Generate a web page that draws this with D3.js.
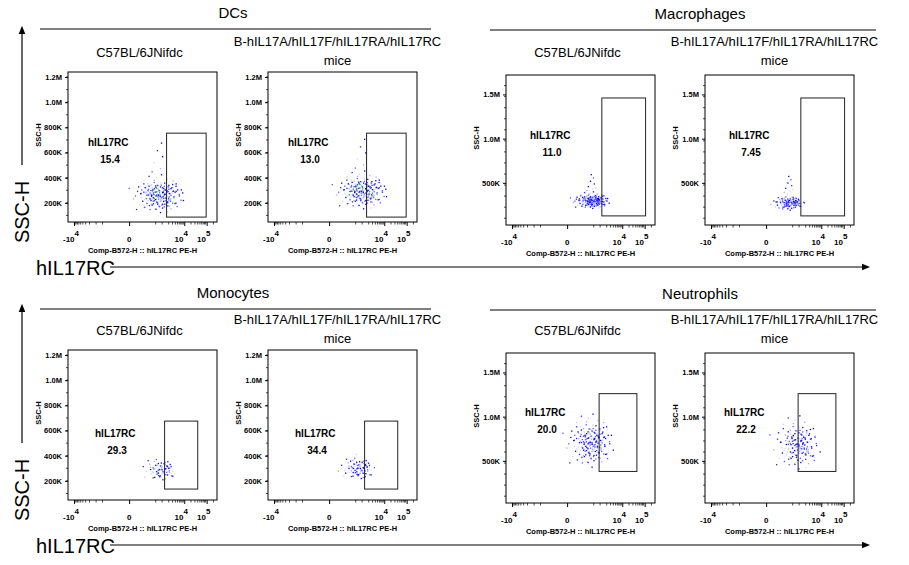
<!DOCTYPE html>
<html lang="en">
<head>
<meta charset="UTF-8">
<title>hIL17RC flow</title>
<script src="https://d3js.org/d3.v7.min.js"></script>
<style>
  body { margin: 0; background: #fff; }
  text { font-family: "Liberation Sans", Arial, sans-serif; }
</style>
</head>
<body>
<svg id="chart" width="909" height="565"></svg>
<script>
// ---- data ----
let groups = ["DCs", "Macrophages", "Monocytes", "Neutrophils"];
let strains = ["C57BL/6JNifdc", "B-hIL17A/hIL17F/hIL17RA/hIL17RC"];
let percents = [[15.4, 13.0], [11.0, 7.45], [29.3, 34.4], [20.0, 22.2]];
// gate [xFrom, xTo] in fluorescence, [sscLow, sscHigh]
let gateX = [[1600, 95000], [1200, 110000], [1300, 40000], [900, 45000]];
let gateY = [[87e3, 754e3], [126e3, 1.46e6], [135e3, 675e3], [380e3, 1.26e6]];
// cluster centre (fluorescence, SSC), spread (x in display fraction, SSC), point count
let clusterX = [[500, 700], [300, 250], [600, 500], [250, 600]];
let clusterY = [[260e3, 290e3], [300e3, 280e3], [290e3, 300e3], [700e3, 680e3]];
let spreadX = [0.14, 0.1, 0.11, 0.13];
let spreadY = [120e3, 75e3, 95e3, 240e3];
let counts = [[86, 86], [75, 45], [28, 34], [80, 66]];
let yTicks = [[2e5, 4e5, 6e5, 8e5, 1e6, 1.2e6], [5e5, 1e6, 1.5e6]];
let yTickLabels = [["200K", "400K", "600K", "800K", "1.0M", "1.2M"], ["500K", "1.0M", "1.5M"]];
let yDomains = [[48e3, 1.24e6], [23e3, 1.72e6]];
// hand-placed offsets for dot clouds
let offsets = [
  [0.1, 0.05], [-0.3, 0.2], [0.5, -0.4], [-0.7, -0.1], [0.2, 0.6], [0.8, 0.3], [-0.2, -0.6], [0.4, 0.1],
  [-0.5, 0.5], [0.0, -0.2], [0.6, 0.7], [-0.9, 0.3], [0.3, -0.8], [-0.1, 0.9], [0.7, -0.2], [-0.4, -0.3],
  [0.15, 0.35], [-0.6, 0.8], [0.9, -0.5], [-0.25, 0.1], [0.45, 0.45], [-0.8, -0.6], [0.05, -0.45], [0.35, -0.15],
  [-0.45, 0.05], [0.65, 0.15], [-0.15, 0.4], [0.25, -0.35], [-0.65, -0.35], [0.55, -0.65], [-0.35, 0.65], [1.1, 0.1],
  [-1.1, -0.2], [0.0, 1.2], [0.2, -1.1], [-0.05, 0.25], [0.75, 0.55], [-0.55, -0.75], [0.1, -0.05], [-0.2, 0.55],
  [0.4, 0.85], [-0.75, 0.15], [0.85, -0.05], [-0.3, -0.9], [0.6, -0.3], [-0.1, -0.1], [0.3, 0.2], [-0.4, 0.35],
  [1.3, -0.3], [-1.3, 0.5], [0.5, 1.1], [-0.6, 1.0], [0.95, 0.8], [-0.95, -0.9], [0.15, -0.7], [-0.15, -0.35],
  [0.7, -0.85], [-0.5, -0.15], [0.35, 0.5], [0.05, 0.7], [-0.85, 0.6], [1.0, -0.7], [-0.25, -0.55], [0.45, -0.5],
  [0.25, 1.4], [-0.35, 1.3], [0.55, 0.3], [-0.7, 0.4], [0.8, 1.0], [-0.05, -0.85], [0.6, 0.45], [-0.45, -0.5],
  [1.2, 0.4], [-1.0, 0.0], [0.1, 0.45], [-0.2, -0.25], [0.9, 0.25], [-0.6, 0.25], [0.3, -0.55], [0.0, 0.0],
  [0.2, 1.8], [-0.1, 2.2], [0.3, 2.6], [0.05, 3.0], [0.25, 3.5], [-0.2, 1.6], [0.4, 2.0], [0.1, 4.0]
];
let dotColors = ["#0000ff", "#5a5aff", "#a8a8ff", "#d0d0ff", "#0000ff", "#2a2adf"];
let coreColors = ["#10c020", "#ffd000"];

let xTickVals = [-1e4, 0, 1e4, 1e5];
let xMinor = [-9e3, -8e3, -7e3, -6e3, -5e3, -4e3, -3e3, -2e3, -1e3, -500, 500, 1e3, 2e3, 3e3, 4e3, 5e3, 6e3,
  7e3, 8e3, 9e3, 2e4, 3e4, 4e4, 5e4, 6e4, 7e4, 8e4, 9e4, 2e5];

// ---- layout ----
let svg = d3.select("#chart");
let rowOffset = [0, 278];
let colLeft = [68, 268, 506, 705];
let frameTop = [72, 75];
let fw = 149, fh = 150;

let x = d3.scaleSymlog().constant(35).domain([-18500, 289000]).range([0, fw]);

function supLabel(g, base, exp, xx, yy) {
  let t = g.append("text").attr("x", xx).attr("y", yy).attr("text-anchor", "middle")
    .attr("font-size", 8).attr("font-weight", "bold");
  t.append("tspan").text(base);
  if (exp) t.append("tspan").attr("dy", -6).text(exp);
}

groups.forEach((grp, gi) => {
  let row = gi >= 2 ? 1 : 0;
  let side = gi % 2; // 0 = left block, 1 = right block
  let oy = rowOffset[row];
  let top = frameTop[side] + oy;
  let y = d3.scaleLinear().domain(yDomains[side]).range([fh, 0]);

  // group title and rule
  let tx = side === 0 ? 233 : 700;
  svg.append("text").attr("x", tx).attr("y", oy + (side ? 19 : 18) + (row ? 2 : 0))
    .attr("text-anchor", "middle").attr("font-size", 15).text(grp);
  svg.append("line").attr("x1", side ? 490 : 40).attr("x2", side ? 876 : 431)
    .attr("y1", oy + (side ? 30 : 29) + (row ? 2 : 0)).attr("y2", oy + (side ? 30 : 29) + (row ? 2 : 0))
    .attr("stroke", "#000").attr("stroke-width", 1);

  strains.forEach((st, si) => {
    let left = colLeft[side * 2 + si];
    let cx = left + fw / 2;
    let head = svg.append("text").attr("text-anchor", "middle").attr("font-size", 13);
    if (si === 0) {
      head.attr("x", cx - 3).attr("y", oy + 57).text(st);
    } else {
      head.attr("x", cx - 5).attr("y", oy + 46).text(st);
      svg.append("text").attr("text-anchor", "middle").attr("font-size", 13)
        .attr("x", cx - 5).attr("y", oy + 65).text("mice");
    }

    let g = svg.append("g").attr("transform", `translate(${left},${top})`);

    // dots
    let c0 = x(clusterX[gi][si]), c1 = y(clusterY[gi][si]);
    let sx = spreadX[gi] * fw;
    let sy = y(0) - y(spreadY[gi]);
    let n = counts[gi][si];
    let pts = offsets.slice(0, n);
    if (gi === 1) pts = pts.concat(offsets.slice(80));
    let layers = [
      { pts: pts, fx: 1, fy: 1, swap: false, dx: 0 },
      { pts: offsets.slice(0, Math.round(n * 0.8)), fx: 0.8, fy: 0.8, swap: true, dx: 3 },
      { pts: offsets.slice(0, Math.round(n * 0.6)), fx: -0.55, fy: 0.6, swap: false, dx: 5 }
    ];
    layers.forEach((L, li) => {
      g.selectAll(".d" + li).data(L.pts).join("rect")
        .attr("x", d => c0 + L.dx + (L.swap ? d[1] : d[0]) * sx * L.fx)
        .attr("y", d => c1 - (L.swap ? d[0] : d[1]) * sy * L.fy)
        .attr("width", 1.3).attr("height", 1.3)
        .attr("fill", (d, i) => (gi === 0 && li === 2 && i % 4 === 0) ? coreColors[i % 2]
          : dotColors[(i + li * 2) % dotColors.length]);
    });

    // frame
    g.append("rect").attr("width", fw).attr("height", fh)
      .attr("fill", "none").attr("stroke", "#000").attr("stroke-width", 1);

    // gate
    let gx0 = x(gateX[gi][0]), gx1 = x(gateX[gi][1]);
    let gy0 = y(gateY[gi][1]), gy1 = y(gateY[gi][0]);
    g.append("rect").attr("x", gx0).attr("y", gy0).attr("width", gx1 - gx0).attr("height", gy1 - gy0)
      .attr("fill", "none").attr("stroke", "#222").attr("stroke-width", 1);

    // y axis
    let yAxis = d3.axisLeft(y).tickValues(yTicks[side]).tickSize(3)
      .tickFormat((d, i) => yTickLabels[side][i]);
    let ya = g.append("g").call(yAxis);
    ya.select(".domain").remove();
    ya.selectAll("text").attr("font-size", 7.5).attr("font-weight", "bold")
      .attr("font-family", "Liberation Sans, Arial, sans-serif");
    let yMinor = d3.range(100e3, yDomains[side][1], side ? 125e3 : 100e3);
    g.selectAll(".ym").data(yMinor).join("line")
      .attr("x1", -2).attr("x2", 0).attr("y1", d => y(d)).attr("y2", d => y(d))
      .attr("stroke", "#000").attr("stroke-width", 0.7);

    // x axis
    let xa = g.append("g").attr("transform", `translate(0,${fh})`)
      .call(d3.axisBottom(x).tickValues(xTickVals).tickSize(4).tickFormat(""));
    xa.select(".domain").remove();
    g.selectAll(".xm").data(xMinor).join("line")
      .attr("x1", d => x(d)).attr("x2", d => x(d)).attr("y1", fh).attr("y2", fh + 2.5)
      .attr("stroke", "#000").attr("stroke-width", 0.7);
    supLabel(g, "-10", "4", x(-1e4) - 3, fh + 20);
    supLabel(g, "0", "", x(0), fh + 20);
    supLabel(g, "10", "4", x(1e4) - 3, fh + 20);
    supLabel(g, "10", "5", x(1e5) - 3, fh + 20);
    g.append("text").attr("x", fw / 2).attr("y", fh + 31).attr("text-anchor", "middle")
      .attr("font-size", 7.5).attr("font-weight", "bold").text("Comp-B572-H :: hIL17RC PE-H");
    g.append("text").attr("transform", `translate(${-27},${fh / 2 - 12}) rotate(-90)`)
      .attr("text-anchor", "middle").attr("font-size", 7.5).attr("font-weight", "bold").text("SSC-H");

    // gate label
    let lx = [20, 24, 27, 19][gi], ly = [74, 64, 87, 63][gi];
    g.append("text").attr("x", lx).attr("y", ly).attr("font-size", 10).attr("font-weight", "bold").text("hIL17RC");
    g.append("text").attr("x", lx + 22).attr("y", ly + 17).attr("text-anchor", "middle")
      .attr("font-size", 10).attr("font-weight", "bold").text(percents[gi][si].toFixed(gi === 1 && si === 1 ? 2 : 1));
  });
});

// big axes
svg.append("defs").append("marker").attr("id", "ah").attr("viewBox", "0 0 10 10")
  .attr("refX", 5).attr("refY", 5).attr("markerWidth", 7).attr("markerHeight", 7).attr("orient", "auto")
  .append("path").attr("d", "M0,1 L10,5 L0,9 Z").attr("fill", "#000");

rowOffset.forEach(oy => {
  svg.append("line").attr("x1", 22).attr("x2", 22).attr("y1", oy + 165).attr("y2", oy + 30)
    .attr("stroke", "#000").attr("stroke-width", 1.2).attr("marker-end", "url(#ah)");
  svg.append("line").attr("x1", 110).attr("x2", 866).attr("y1", oy + 267).attr("y2", oy + 267)
    .attr("stroke", "#000").attr("stroke-width", 1.2).attr("marker-end", "url(#ah)");
  svg.append("text").attr("transform", `translate(29,${oy + 212}) rotate(-90)`)
    .attr("text-anchor", "middle").attr("font-size", 20).text("SSC-H");
  svg.append("text").attr("x", 36).attr("y", oy + 275).attr("font-size", 20).text("hIL17RC");
});
</script>
</body>
</html>
